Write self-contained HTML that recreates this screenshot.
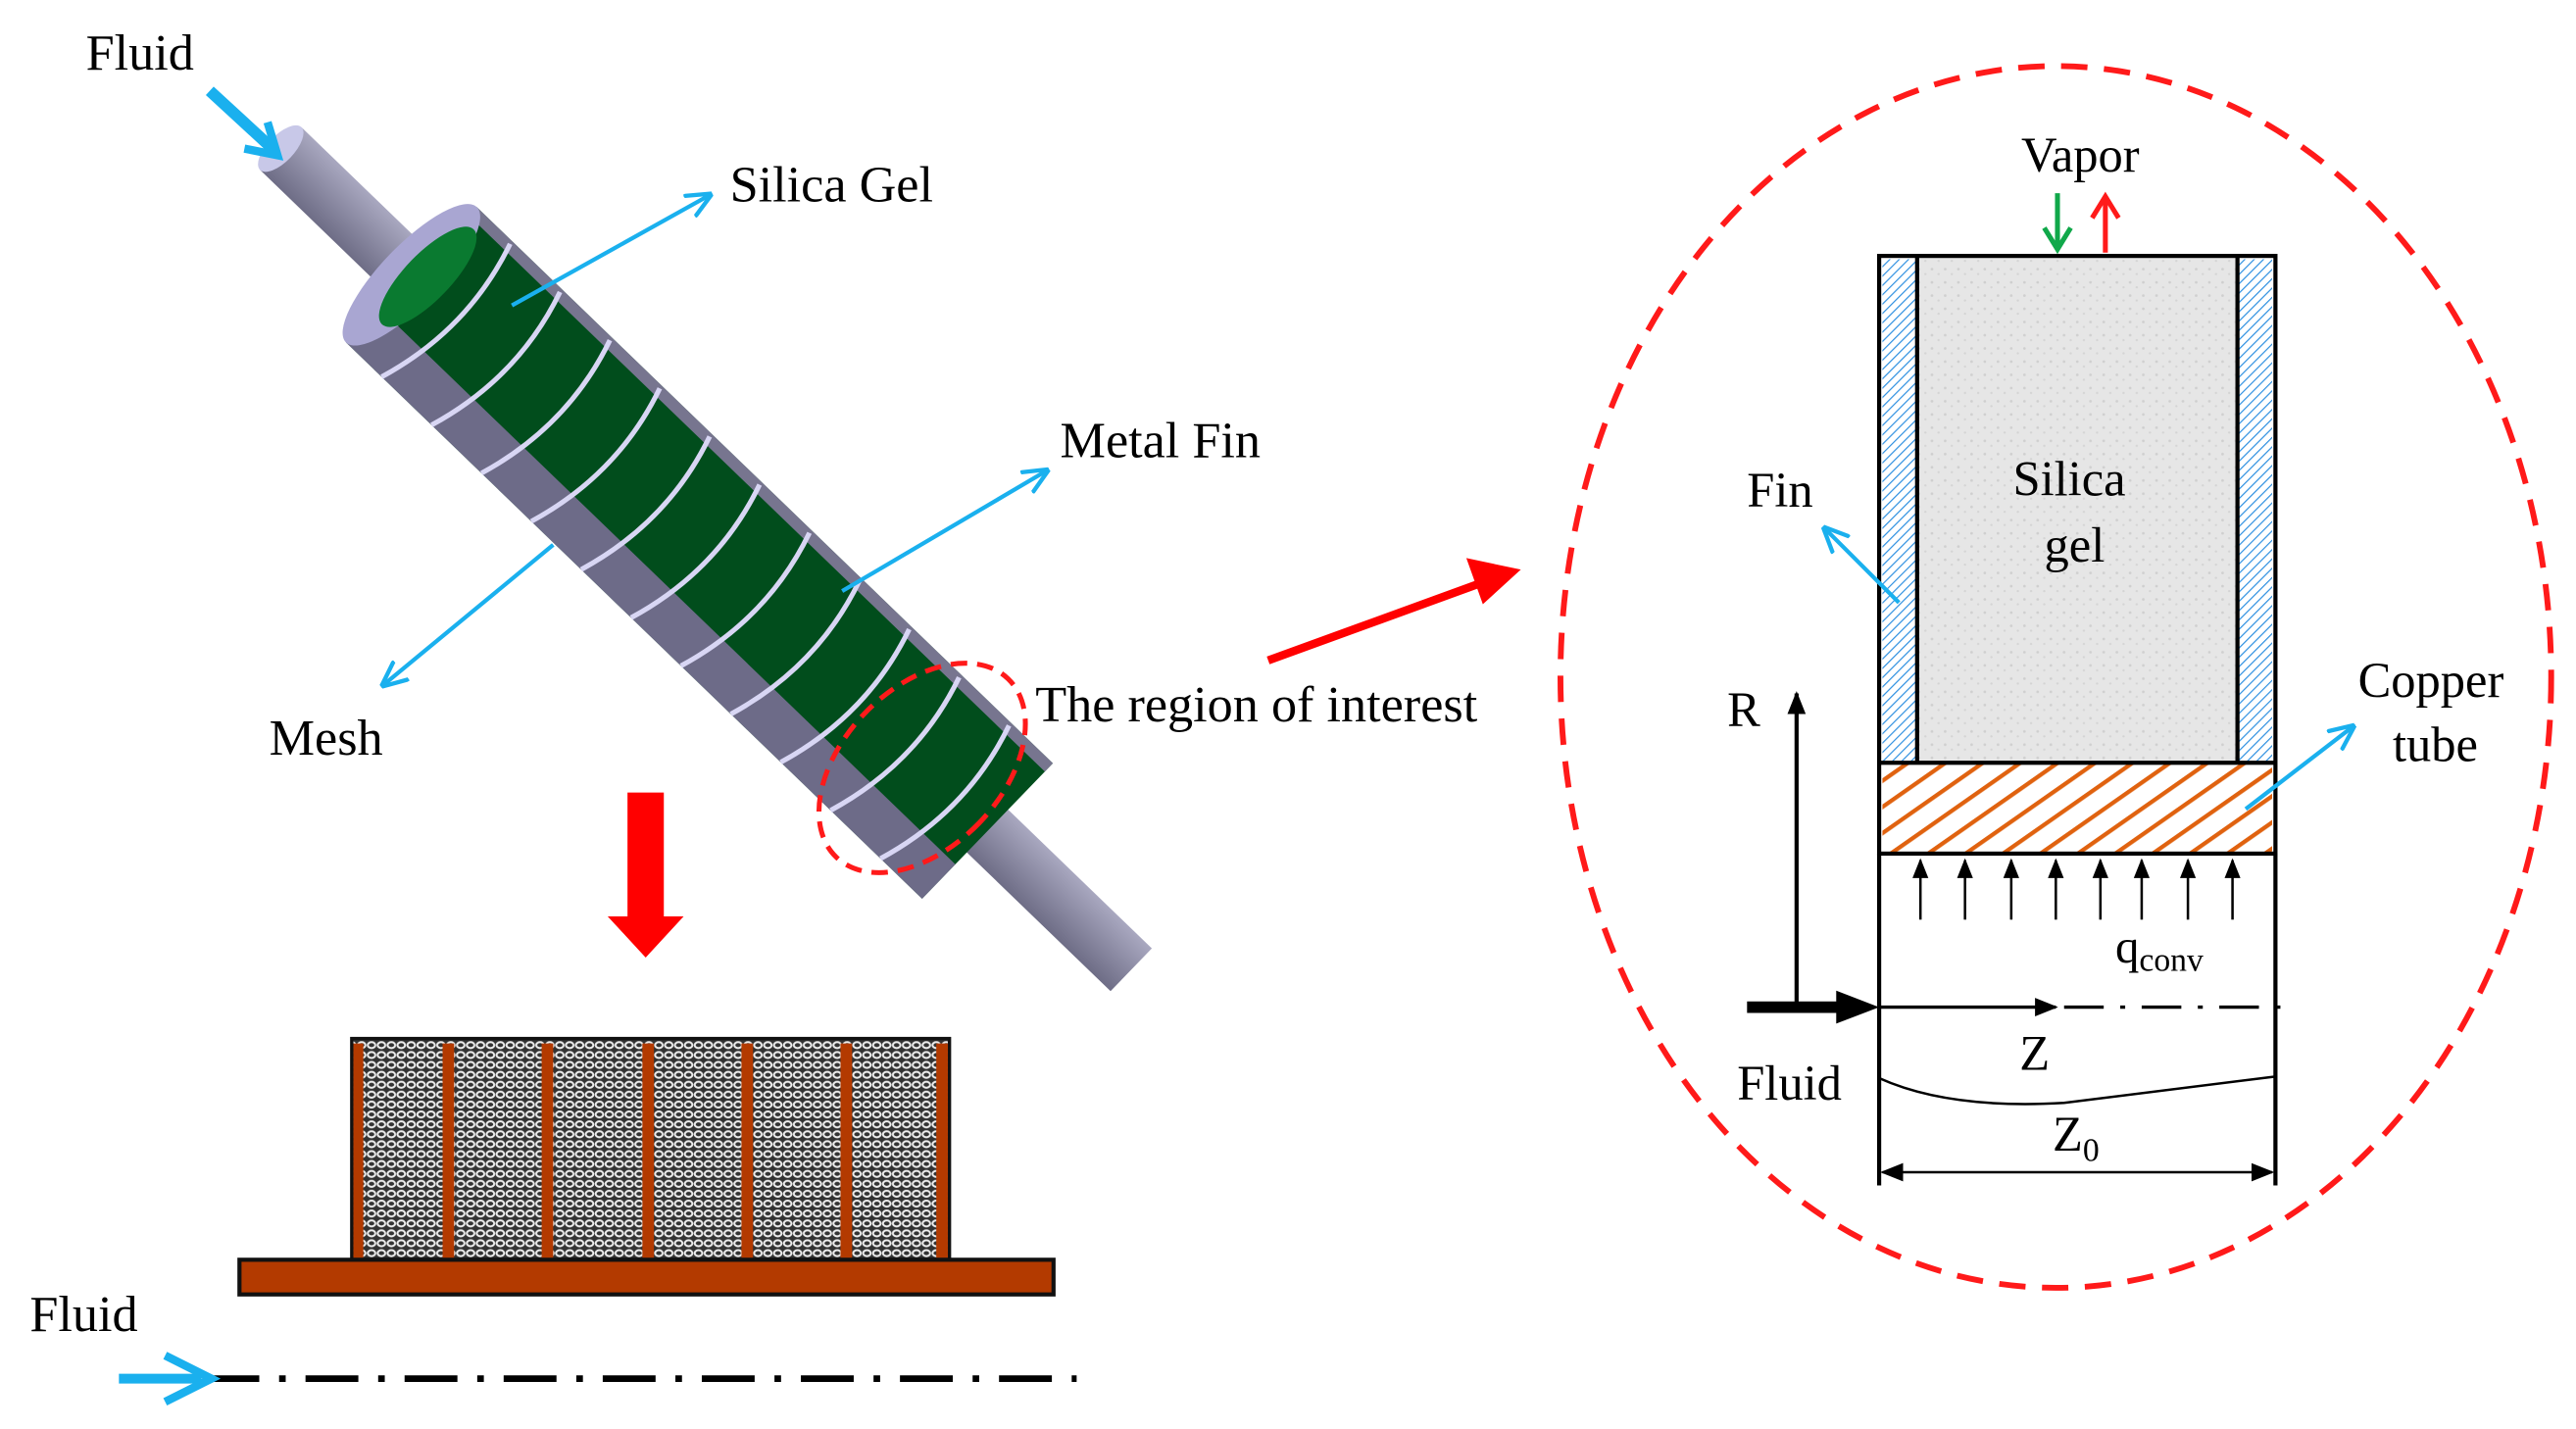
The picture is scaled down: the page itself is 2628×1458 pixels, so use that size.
<!DOCTYPE html>
<html><head><meta charset="utf-8"><style>
html,body{margin:0;padding:0;background:#fff;}
svg{display:block;}
text{font-family:"Liberation Serif",serif;fill:#000;}
</style></head><body>
<svg width="2628" height="1458" viewBox="0 0 1560 865.5" xmlns="http://www.w3.org/2000/svg">
<defs>
<marker id="ab" viewBox="0 0 10 10" refX="9" refY="5" markerWidth="16" markerHeight="16" orient="auto" markerUnits="userSpaceOnUse"><path d="M0,0.5 L10,5 L0,9.5" fill="none" stroke="#1ab0ee" stroke-width="1.6"/></marker>
<marker id="ak" viewBox="0 0 10 10" refX="9" refY="5" markerWidth="12" markerHeight="12" orient="auto" markerUnits="userSpaceOnUse"><path d="M0,1 L10,5 L0,9 z" fill="#000"/></marker>
<marker id="ak2" viewBox="0 0 10 10" refX="9" refY="5" markerWidth="14" markerHeight="14" orient="auto-start-reverse" markerUnits="userSpaceOnUse"><path d="M0,1 L10,5 L0,9 z" fill="#000"/></marker>
<pattern id="mesh" width="6" height="6" patternUnits="userSpaceOnUse"><rect width="6" height="6" fill="#333"/><ellipse cx="3" cy="3" rx="2.3" ry="1.8" fill="none" stroke="#eee" stroke-width="1.2"/></pattern>
<pattern id="bh" width="4" height="4" patternUnits="userSpaceOnUse" patternTransform="rotate(-45)"><rect width="4" height="4" fill="#fff"/><line x1="0" y1="0" x2="4" y2="0" stroke="#2a8ee0" stroke-width="1.4"/></pattern>
<pattern id="oh" width="13" height="13" patternUnits="userSpaceOnUse" patternTransform="rotate(-35)"><rect width="13" height="13" fill="#fff"/><line x1="0" y1="0" x2="13" y2="0" stroke="#e0620f" stroke-width="5"/></pattern>
<pattern id="sg" width="8" height="8" patternUnits="userSpaceOnUse"><rect width="8" height="8" fill="#e6e6e6"/><circle cx="2" cy="3" r="0.8" fill="#cfcfcf"/><circle cx="6" cy="6" r="0.7" fill="#d4d4d4"/></pattern>
<linearGradient id="tube" x1="0" y1="0" x2="0" y2="1"><stop offset="0" stop-color="#a9a8c0"/><stop offset="1" stop-color="#6e6d86"/></linearGradient>
</defs>

<!-- Cylinder -->
<g transform="translate(170,90) rotate(44)">
  <rect x="0" y="-18" width="716" height="36" fill="url(#tube)"/>
  <ellipse cx="0" cy="0" rx="8" ry="18" fill="#c8c8e8"/>
  <rect x="110" y="-57" width="485" height="114" fill="#014d1c"/>
  <rect x="110" y="-57" width="485" height="7" fill="#77758f"/>
  <rect x="110" y="28" width="485" height="29" fill="#6d6b88"/>
  <ellipse cx="110" cy="0" rx="18" ry="57" fill="#a9a6d2"/>
  <ellipse cx="118" cy="-6" rx="14" ry="40" fill="#0a7a30"/>
  <g fill="none" stroke="#d8d6f4" stroke-width="3">
    <path d="M140,-55 Q158,0 140,57"/><path d="M182,-55 Q200,0 182,57"/><path d="M224,-55 Q242,0 224,57"/>
    <path d="M266,-55 Q284,0 266,57"/><path d="M308,-55 Q326,0 308,57"/><path d="M350,-55 Q368,0 350,57"/>
    <path d="M392,-55 Q410,0 392,57"/><path d="M434,-55 Q452,0 434,57"/><path d="M476,-55 Q494,0 476,57"/>
    <path d="M518,-55 Q536,0 518,57"/><path d="M560,-55 Q578,0 560,57"/>
  </g>
  <ellipse cx="540" cy="0" rx="48" ry="75" fill="none" stroke="#ff1a1a" stroke-width="3" stroke-dasharray="10,6"/>
</g>
<path d="M127,55 L165,90" stroke="#1ab0ee" stroke-width="7"/>
<path d="M148,90 L168,94 L162,74" fill="none" stroke="#1ab0ee" stroke-width="5"/>

<text x="52" y="42" font-size="31">Fluid</text>
<line x1="310" y1="185" x2="430" y2="118" stroke="#1ab0ee" stroke-width="2.5" marker-end="url(#ab)"/>
<text x="442" y="122" font-size="31">Silica Gel</text>
<line x1="510" y1="358" x2="634" y2="285" stroke="#1ab0ee" stroke-width="2.5" marker-end="url(#ab)"/>
<text x="642" y="277" font-size="31">Metal Fin</text>
<line x1="335" y1="330" x2="232" y2="415" stroke="#1ab0ee" stroke-width="2.5" marker-end="url(#ab)"/>
<text x="163" y="457" font-size="31">Mesh</text>
<text x="627" y="437" font-size="31">The region of interest</text>

<!-- red arrows -->
<path d="M380,480 H402 V555 H414 L391,580 L368,555 H380 Z" fill="#ff0000"/>
<line x1="768" y1="400" x2="900" y2="352" stroke="#ff0000" stroke-width="5"/>
<path d="M888,338 L921,345 L898,366 Z" fill="#ff0000"/>

<!-- bottom-left section -->
<rect x="213" y="629" width="362" height="134" fill="url(#mesh)" stroke="#111" stroke-width="2"/>
<g fill="#b33a00">
<rect x="214" y="632" width="6" height="130"/><rect x="268" y="632" width="7" height="130"/><rect x="328" y="632" width="7" height="130"/>
<rect x="389" y="632" width="7" height="130"/><rect x="449" y="632" width="7" height="130"/><rect x="509" y="632" width="7" height="130"/><rect x="567" y="632" width="7" height="130"/>
</g>
<rect x="145" y="763" width="493" height="21" fill="#b33a00" stroke="#111" stroke-width="2.5"/>
<line x1="125" y1="835" x2="652" y2="835" stroke="#000" stroke-width="4" stroke-dasharray="32,12,4,12"/>
<line x1="72" y1="835" x2="122" y2="835" stroke="#1ab0ee" stroke-width="6"/>
<path d="M100,821 L128,835 L100,849" fill="none" stroke="#1ab0ee" stroke-width="5"/>
<text x="18" y="806" font-size="31">Fluid</text>

<!-- right detail -->
<ellipse cx="1245" cy="410" rx="300" ry="370" fill="none" stroke="#ff1a1a" stroke-width="3.5" stroke-dasharray="16,10"/>
<rect x="1160" y="155" width="196" height="307" fill="url(#sg)"/>
<rect x="1140" y="157" width="20" height="305" fill="url(#bh)"/>
<rect x="1356" y="157" width="20" height="305" fill="url(#bh)"/>
<rect x="1140" y="462" width="236" height="55" fill="url(#oh)"/>
<g stroke="#000" stroke-width="2.5" fill="none">
<rect x="1138" y="155" width="240" height="362"/>
<line x1="1161" y1="155" x2="1161" y2="462"/><line x1="1355" y1="155" x2="1355" y2="462"/>
<line x1="1138" y1="462" x2="1378" y2="462"/>
<line x1="1138" y1="517" x2="1138" y2="718"/><line x1="1378" y1="517" x2="1378" y2="718"/>
</g>
<g stroke="#000" stroke-width="1.5">
<line x1="1163" y1="557" x2="1163" y2="521" marker-end="url(#ak)"/><line x1="1190" y1="557" x2="1190" y2="521" marker-end="url(#ak)"/>
<line x1="1218" y1="557" x2="1218" y2="521" marker-end="url(#ak)"/><line x1="1245" y1="557" x2="1245" y2="521" marker-end="url(#ak)"/>
<line x1="1272" y1="557" x2="1272" y2="521" marker-end="url(#ak)"/><line x1="1297" y1="557" x2="1297" y2="521" marker-end="url(#ak)"/>
<line x1="1325" y1="557" x2="1325" y2="521" marker-end="url(#ak)"/><line x1="1352" y1="557" x2="1352" y2="521" marker-end="url(#ak)"/>
</g>
<text x="1281" y="583" font-size="29">q<tspan font-size="20" dy="5">conv</tspan></text>
<line x1="1088" y1="612" x2="1088" y2="420" stroke="#000" stroke-width="2.5" marker-end="url(#ak2)"/>
<text x="1046" y="440" font-size="30">R</text>
<line x1="1058" y1="610" x2="1118" y2="610" stroke="#000" stroke-width="7"/>
<path d="M1112,600 L1138,610 L1112,620 Z" fill="#000"/>
<line x1="1138" y1="610" x2="1245" y2="610" stroke="#000" stroke-width="2" marker-end="url(#ak2)"/>
<line x1="1250" y1="610" x2="1385" y2="610" stroke="#000" stroke-width="2" stroke-dasharray="24,10,3,10"/>
<text x="1223" y="648" font-size="30">Z</text>
<text x="1052" y="666" font-size="30">Fluid</text>
<path d="M1138,653 Q1180,672 1250,668 L1378,652" fill="none" stroke="#000" stroke-width="1.5"/>
<text x="1243" y="697" font-size="30">Z<tspan font-size="20" dy="6">0</tspan></text>
<line x1="1140" y1="710" x2="1376" y2="710" stroke="#000" stroke-width="1.5" marker-end="url(#ak2)" marker-start="url(#ak2)"/>

<text x="1224" y="104" font-size="30">Vapor</text>
<line x1="1246" y1="117" x2="1246" y2="150" stroke="#10a84a" stroke-width="3"/>
<path d="M1238,138 L1246,151 L1254,138" fill="none" stroke="#10a84a" stroke-width="3"/>
<line x1="1275" y1="153" x2="1275" y2="120" stroke="#ff1a1a" stroke-width="3"/>
<path d="M1267,132 L1275,119 L1283,132" fill="none" stroke="#ff1a1a" stroke-width="3"/>
<text x="1219" y="300" font-size="30">Silica</text>
<text x="1238" y="340" font-size="30">gel</text>
<text x="1058" y="307" font-size="30">Fin</text>
<line x1="1150" y1="365" x2="1105" y2="320" stroke="#1ab0ee" stroke-width="2.5" marker-end="url(#ab)"/>
<text x="1428" y="422" font-size="30">Copper</text>
<text x="1449" y="461" font-size="30">tube</text>
<line x1="1360" y1="490" x2="1425" y2="440" stroke="#1ab0ee" stroke-width="2.5" marker-end="url(#ab)"/>
</svg>
</body></html>
